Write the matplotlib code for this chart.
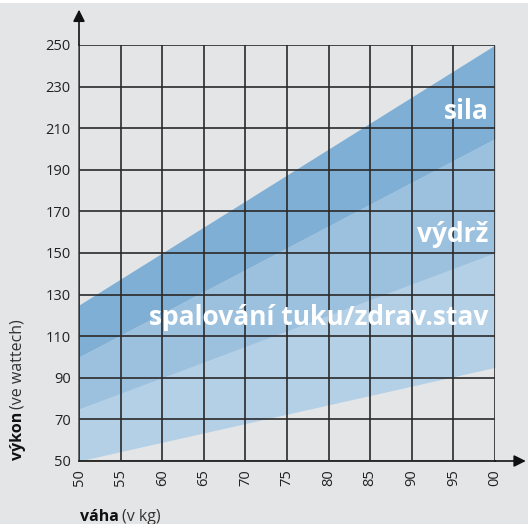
import numpy as np
import matplotlib
matplotlib.use("Agg")
from matplotlib import pyplot as plt
from matplotlib.patches import Rectangle

# data
weight = [50, 100]
line_bottom = [50, 95]
line_low = [75, 150]
line_mid = [100, 205]
line_top = [125, 250]
x_ticks = [50, 55, 60, 65, 70, 75, 80, 85, 90, 95, 100]
x_tick_labels = ["50", "55", "60", "65", "70", "75", "80", "85", "90", "95", "00"]
y_ticks = [50, 70, 90, 110, 130, 150, 170, 190, 210, 230, 250]
zone_labels = ["sila", "výdrž", "spalování tuku/zdrav.stav"]
zone_label_y = [218, 159, 119]

BG = "#e4e5e7"
plt.rcParams["font.family"] = ["Open Sans", "DejaVu Sans"]

fig = plt.figure(figsize=(5.28, 5.24), dpi=100, facecolor="white")
fig.patches.append(Rectangle((0, 0), 1, 1 - 3 / 524, transform=fig.transFigure,
                             facecolor=BG, edgecolor="none", zorder=-10))
ax = fig.add_axes([79 / 528, 1 - 461 / 524, 416 / 528, 416 / 524])
ax.set_facecolor(BG)

ax.fill_between(weight, line_bottom, line_low, color="#b4d0e6", lw=0, zorder=1)
ax.fill_between(weight, line_low, line_mid, color="#9cc1df", lw=0, zorder=1)
ax.fill_between(weight, line_mid, line_top, color="#7fafd4", lw=0, zorder=1)

ax.set_xlim(50, 100)
ax.set_ylim(50, 250)
ax.set_xticks(x_ticks)
ax.set_xticklabels(x_tick_labels, rotation=90, fontsize=10.5, color="#222222")
ax.set_yticks(y_ticks)
ax.set_yticklabels([str(v) for v in y_ticks], fontsize=10.5, color="#222222")
ax.tick_params(length=0, pad=6)
ax.grid(True, color="#2a2a2a", lw=1.2, zorder=2)
ax.set_axisbelow(False)
for s in ["top", "right"]:
    ax.spines[s].set_visible(False)
ax.spines["left"].set_color("#555555")
ax.spines["bottom"].set_color("#111111")
ax.spines["left"].set_linewidth(1.2)
ax.spines["bottom"].set_linewidth(1.2)

# axis arrows
ax.annotate("", xy=(50, 267), xytext=(50, 250), annotation_clip=False,
            arrowprops=dict(arrowstyle="-|>,head_length=0.7,head_width=0.35",
                            color="#111111", lw=1.2, shrinkA=0, shrinkB=0))
ax.annotate("", xy=(103.7, 50), xytext=(100, 50), annotation_clip=False,
            arrowprops=dict(arrowstyle="-|>,head_length=0.7,head_width=0.35",
                            color="#111111", lw=1.2, shrinkA=0, shrinkB=0))

for lab, yy in zip(zone_labels, zone_label_y):
    ax.text(99.2, yy, lab, ha="right", va="center", fontsize=19,
            fontweight="bold", color="white", zorder=3)

# axis titles with mixed weights
fig.canvas.draw()
r = fig.canvas.get_renderer()
t1 = fig.text(18 / 528, 1 - 460 / 524, "výkon", rotation=90, ha="center",
              va="bottom", fontsize=11.5, fontweight="bold", color="#111111")
bb = t1.get_window_extent(r)
fig.text(18 / 528, (bb.y1 + 3) / fig.bbox.height, "(ve wattech)", rotation=90,
         ha="center", va="bottom", fontsize=11.5, color="#333333")
t2 = fig.text(80 / 528, 1 - 517 / 524, "váha", ha="left", va="center",
              fontsize=11.5, fontweight="bold", color="#111111")
bb = t2.get_window_extent(r)
fig.text((bb.x1 + 3) / fig.bbox.width, 1 - 517 / 524, "(v kg)", ha="left",
         va="center", fontsize=11.5, color="#333333")

fig.savefig("out.png", dpi=100, facecolor="white")
